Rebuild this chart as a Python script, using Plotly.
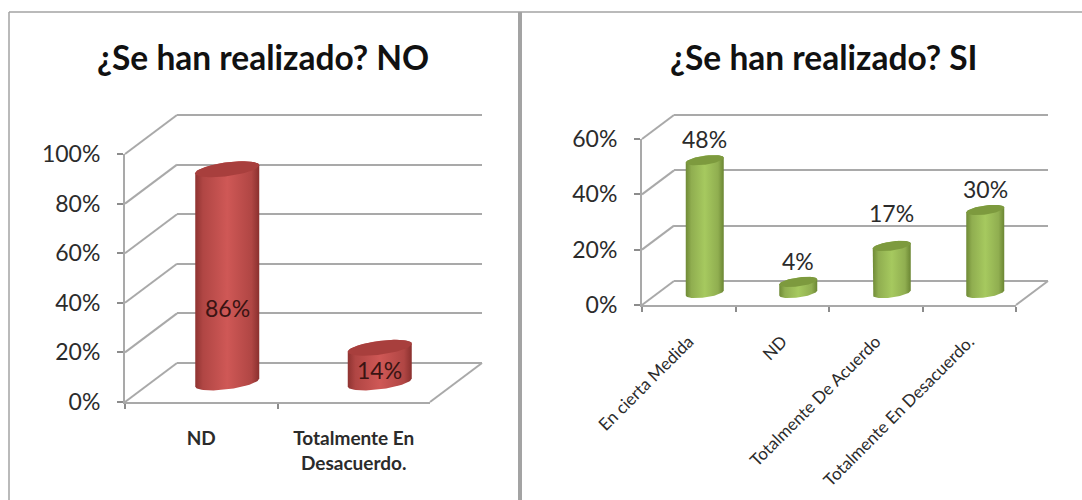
import numpy as np
import plotly.graph_objects as go

W, H = 1082, 500

title_no = "¿Se han realizado? NO"
cats_no = ["ND", "Totalmente En<br>Desacuerdo."]
vals_no = [86, 14]
ticks_no = [0, 20, 40, 60, 80, 100]

title_si = "¿Se han realizado? SI"
cats_si = ["En cierta Medida", "ND", "Totalmente De Acuerdo", "Totalmente En Desacuerdo."]
vals_si = [48, 4, 17, 30]
ticks_si = [0, 20, 40, 60]

FONT = "Lato"
TXT = "#2b2b2b"
GRID = "#a9a9a9"

def px(x): return x / W
def py(y): return 1 - y / H

fig = go.Figure()
shapes, annos, lay = [], [], {}

def panel(idx, cats, vals, ticks, box, depth, cyl, grad, cap, label_mode, tickfont, angle, standoff, lifts):
    x0, x1, y0, y1 = box          # pixel box of the front plane (left, right, zero line, top tick)
    dx, dy = depth
    a, s, b = cyl
    n = len(cats)
    top = ticks[-1]
    pos = list(range(n))
    ux = (x1 - x0) / n            # pixels per category
    uy = (y0 - y1) / top          # pixels per value unit

    names = [f"{i}" for i in (idx, idx + 1, idx + 2)]
    ax = [("" if nm == "1" else nm) for nm in names]
    def dom(shift_x, shift_y, pad=0):
        return ([px(x0 + shift_x), px(x1 + shift_x)], [py(y0 - shift_y + pad), py(y1 - shift_y - pad)])

    # front plane: the real category and value axes
    d = dom(0, 0)
    lay[f"xaxis{ax[0]}"] = dict(domain=d[0], type="category", categoryorder="array", categoryarray=cats,
                                range=[-0.5, n - 0.5], anchor=f"y{ax[0]}", tickson="boundaries", ticks="outside",
                                ticklen=5, tickwidth=1.5, tickcolor="#8c8c8c", showline=True, linecolor=GRID,
                                linewidth=2, showgrid=False, tickfont=tickfont, tickangle=angle, automargin=False,
                                ticklabelstandoff=standoff)
    lay[f"yaxis{ax[0]}"] = dict(domain=d[1], range=[0, top], anchor=f"x{ax[0]}", tickvals=ticks,
                                ticktext=[f"{t}%" for t in ticks], ticks="outside", ticklen=6, tickwidth=1.5,
                                tickcolor="#8c8c8c", showline=True, linecolor=GRID, linewidth=2, showgrid=False,
                                zeroline=False, tickfont=dict(family=FONT, size=23, color=TXT), automargin=False,
                                ticklabelstandoff=12)
    fig.add_trace(go.Scatter(x=cats, y=vals, mode="markers", marker=dict(opacity=0), showlegend=False,
                             hoverinfo="skip", xaxis=f"x{ax[0]}", yaxis=f"y{ax[0]}"))

    # back wall: same value scale, shifted by the full depth, with its gridlines
    pad = 4
    d = dom(dx, dy, pad)
    lay[f"xaxis{ax[1]}"] = dict(domain=d[0], range=[-0.5, n - 0.5], anchor=f"y{ax[1]}", visible=False)
    lay[f"yaxis{ax[1]}"] = dict(domain=d[1], range=[-pad / uy, top + pad / uy], anchor=f"x{ax[1]}", tickvals=ticks,
                                showticklabels=False, ticks="", showgrid=True, gridcolor=GRID, gridwidth=2,
                                zeroline=False, showline=False)
    fig.add_trace(go.Scatter(x=pos, y=vals, mode="markers", marker=dict(opacity=0), showlegend=False,
                             hoverinfo="skip", xaxis=f"x{ax[1]}", yaxis=f"y{ax[1]}"))

    # middle plane: the cylinders stand half way back
    pad = 14
    d = dom(dx / 2, dy / 2, pad)
    xa, ya = f"x{ax[2]}", f"y{ax[2]}"
    lay[f"xaxis{ax[2]}"] = dict(domain=d[0], range=[-0.5, n - 0.5], anchor=ya, visible=False)
    lay[f"yaxis{ax[2]}"] = dict(domain=d[1], range=[-pad / uy, top + pad / uy], anchor=xa, visible=False)

    fig.add_trace(go.Bar(x=pos, y=vals, width=1.4 * a / ux, marker=dict(color=grad[2][1], line_width=0),
                         showlegend=False, xaxis=xa, yaxis=ya, cliponaxis=False,
                         hovertemplate="%{y}%<extra></extra>"))

    t_up = np.linspace(0, np.pi, 40)
    t_dn = np.linspace(np.pi, 2 * np.pi, 40)
    for p, v, lift in zip(pos, vals, lifts):
        def ex(t): return p + a * np.cos(t) / ux
        def ey(t, base): return base + (s * np.cos(t) + b * np.sin(t)) / uy
        xs = np.r_[ex(t_up), ex(t_dn), ex(t_up[:1])]
        ys = np.r_[ey(t_up, v), ey(t_dn, 0), ey(t_up[:1], v)]
        fig.add_trace(go.Scatter(x=xs, y=ys, mode="lines", line=dict(width=0), fill="toself",
                                 fillgradient=dict(type="horizontal", colorscale=grad),
                                 showlegend=False, hoverinfo="skip", xaxis=xa, yaxis=ya))
        t = np.linspace(0, 2 * np.pi, 70)
        fig.add_trace(go.Scatter(x=ex(t), y=ey(t, v), mode="lines", line=dict(width=0), fill="toself",
                                 fillcolor=cap, showlegend=False, hoverinfo="skip", xaxis=xa, yaxis=ya))
        if label_mode == "inside":
            annos.append(dict(x=p, y=v * 0.35, xref=xa, yref=ya, text=f"{v}%", showarrow=False, yanchor="middle",
                              font=dict(family=FONT, size=23, color="#3a1413")))
        else:
            annos.append(dict(x=p, y=v, xref=xa, yref=ya, text=f"{v}%", showarrow=False, yanchor="bottom",
                              yshift=5 + lift, font=dict(family=FONT, size=23, color=TXT)))

    # side wall and floor edges
    for t in ticks:
        yy = y0 - t * uy
        shapes.append(dict(type="line", xref="paper", yref="paper", layer="below", x0=px(x0), y0=py(yy),
                           x1=px(x0 + dx), y1=py(yy - dy), line=dict(color=GRID, width=2)))
    shapes.append(dict(type="line", xref="paper", yref="paper", layer="below", x0=px(x1), y0=py(y0),
                       x1=px(x1 + dx), y1=py(y0 - dy), line=dict(color=GRID, width=2)))


red = [[0, "#8f3331"], [0.12, "#b04644"], [0.5, "#cf5856"], [0.88, "#b04644"], [1, "#8a302e"]]
green = [[0, "#6f8a36"], [0.15, "#90ae50"], [0.5, "#a6c95f"], [0.85, "#90ae50"], [1, "#6b8633"]]

panel(1, cats_no, vals_no, ticks_no, (125, 430, 402, 154), (52, 39), (32, 4, 6.9), red, "#a83f3d", "inside",
      dict(family=FONT, size=19, color=TXT, weight=700), 0, 18, [0, 0])
panel(4, cats_si, vals_si, ticks_si, (642, 1016, 305, 139), (32, 24), (19, 2.5, 4.5), green, "#7d9a3e", "above",
      dict(family=FONT, size=17, color=TXT), -45, 18, [0, 0, 12, 0])

for txt, cx in ((title_no, 263), (title_si, 824)):
    annos.append(dict(x=px(cx), y=py(57), xref="paper", yref="paper", text=txt, showarrow=False,
                      xanchor="center", yanchor="middle", font=dict(family=FONT, size=33.5, color="#111111", weight=700)))

# panel frames
frame = "#a3a3a3"
for (a0, b0, a1, b1, w) in ((9, 12, 1082, 12, 1.5), (9, 12, 9, 500, 1.5), (520, 12, 520, 500, 4)):
    shapes.append(dict(type="line", xref="paper", yref="paper", layer="below", x0=px(a0), y0=py(b0),
                       x1=px(a1), y1=py(b1), line=dict(color=frame, width=w)))

fig.update_layout(width=W, height=H, margin=dict(l=0, r=0, t=0, b=0), paper_bgcolor="white", plot_bgcolor="rgba(0,0,0,0)",
                  showlegend=False, shapes=shapes, annotations=annos, **lay)
fig.write_html("out.html", config=dict(displayModeBar=False), post_script="document.body.style.margin='0';")
